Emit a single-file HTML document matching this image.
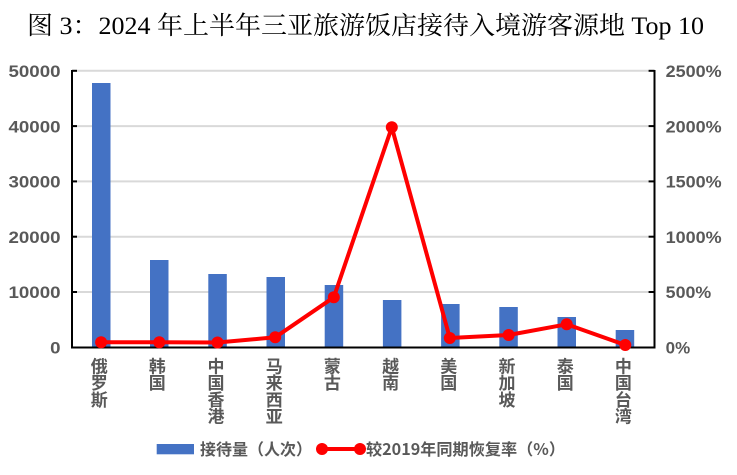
<!DOCTYPE html>
<html>
<head>
<meta charset="utf-8">
<style>
html,body{margin:0;padding:0;background:#fff;}
svg{display:block;}
.t{font-family:"Liberation Serif","Noto Serif CJK SC",serif;}
.ax{font-family:"Liberation Sans","Noto Sans CJK SC",sans-serif;font-weight:bold;fill:#595959;}
.cj{font-family:"Noto Sans CJK SC","Liberation Sans",sans-serif;font-weight:bold;fill:#595959;}
</style>
</head>
<body>
<svg width="737" height="475" viewBox="0 0 737 475" xmlns="http://www.w3.org/2000/svg">
<rect width="737" height="475" fill="#fff"/>
<!-- title -->
<text class="t" x="27" y="34" font-size="25" fill="#000" textLength="677" lengthAdjust="spacingAndGlyphs">图 3：2024 年上半年三亚旅游饭店接待入境游客源地 Top 10</text>

<!-- gridlines -->
<g stroke="#d9d9d9" stroke-width="2">
<line x1="73" y1="70.8" x2="648" y2="70.8"/>
<line x1="73" y1="126.1" x2="648" y2="126.1"/>
<line x1="73" y1="181.4" x2="648" y2="181.4"/>
<line x1="73" y1="236.7" x2="648" y2="236.7"/>
<line x1="73" y1="292" x2="648" y2="292"/>
</g>

<!-- bars -->
<g fill="#4472C4">
<rect x="92" y="83" width="18.5" height="264.5"/>
<rect x="150" y="260" width="18.5" height="87.5"/>
<rect x="208.3" y="274" width="18.5" height="73.5"/>
<rect x="266.5" y="277" width="18.5" height="70.5"/>
<rect x="324.7" y="285" width="18.5" height="62.5"/>
<rect x="382.9" y="300" width="18.5" height="47.5"/>
<rect x="441.1" y="304" width="18.5" height="43.5"/>
<rect x="499.3" y="307" width="18.5" height="40.5"/>
<rect x="557.5" y="317" width="18.5" height="30.5"/>
<rect x="615.7" y="330" width="18.5" height="17.5"/>
</g>

<!-- axes -->
<g stroke="#000" stroke-width="2">
<line x1="72" y1="70" x2="72" y2="348.5"/>
<line x1="654.5" y1="70" x2="654.5" y2="348.5"/>
<line x1="71" y1="347.5" x2="655.5" y2="347.5"/>
<line x1="72" y1="70.8" x2="77" y2="70.8"/>
<line x1="72" y1="126.1" x2="77" y2="126.1"/>
<line x1="72" y1="181.4" x2="77" y2="181.4"/>
<line x1="72" y1="236.7" x2="77" y2="236.7"/>
<line x1="72" y1="292" x2="77" y2="292"/>
<line x1="648.5" y1="70.8" x2="654.5" y2="70.8"/>
<line x1="648.5" y1="126.1" x2="654.5" y2="126.1"/>
<line x1="648.5" y1="181.4" x2="654.5" y2="181.4"/>
<line x1="648.5" y1="236.7" x2="654.5" y2="236.7"/>
<line x1="648.5" y1="292" x2="654.5" y2="292"/>
</g>

<!-- line series -->
<polyline fill="none" stroke="#ff0000" stroke-width="4" stroke-linejoin="round"
 points="101.1,342.3 159.3,342.3 217.5,342.5 275.2,337.3 333.8,297.3 391.8,127.3 449.8,338 508.7,335 566.7,324.3 625.3,345"/>
<g fill="#ff0000">
<circle cx="101.1" cy="342.3" r="6"/>
<circle cx="159.3" cy="342.3" r="6"/>
<circle cx="217.5" cy="342.5" r="6"/>
<circle cx="275.2" cy="337.3" r="6"/>
<circle cx="333.8" cy="297.3" r="6"/>
<circle cx="391.8" cy="127.3" r="6"/>
<circle cx="449.8" cy="338" r="6"/>
<circle cx="508.7" cy="335" r="6"/>
<circle cx="566.7" cy="324.3" r="6"/>
<circle cx="625.3" cy="345" r="6"/>
</g>

<!-- left axis labels -->
<g class="ax" font-size="16.5" text-anchor="end">
<text x="60.5" y="77" textLength="52" lengthAdjust="spacingAndGlyphs">50000</text>
<text x="60.5" y="132.3" textLength="52" lengthAdjust="spacingAndGlyphs">40000</text>
<text x="60.5" y="187.6" textLength="52" lengthAdjust="spacingAndGlyphs">30000</text>
<text x="60.5" y="242.9" textLength="52" lengthAdjust="spacingAndGlyphs">20000</text>
<text x="60.5" y="298.2" textLength="52" lengthAdjust="spacingAndGlyphs">10000</text>
<text x="60.5" y="353.5" textLength="10.4" lengthAdjust="spacingAndGlyphs">0</text>
</g>

<!-- right axis labels -->
<g class="ax" font-size="16.5">
<text x="665.7" y="77" textLength="56" lengthAdjust="spacingAndGlyphs">2500%</text>
<text x="665.7" y="132.3" textLength="56" lengthAdjust="spacingAndGlyphs">2000%</text>
<text x="665.7" y="187.6" textLength="56" lengthAdjust="spacingAndGlyphs">1500%</text>
<text x="665.7" y="242.9" textLength="56" lengthAdjust="spacingAndGlyphs">1000%</text>
<text x="665.7" y="298.2" textLength="45.5" lengthAdjust="spacingAndGlyphs">500%</text>
<text x="665.7" y="353.5" textLength="24.5" lengthAdjust="spacingAndGlyphs">0%</text>
</g>

<!-- category labels (vertical) -->
<g class="cj" font-size="17" text-anchor="middle">
<text x="99.3" y="372.5">俄</text><text x="99.3" y="389.2">罗</text><text x="99.3" y="405.9">斯</text>
<text x="157.3" y="372.5">韩</text><text x="157.3" y="389.2">国</text>
<text x="216" y="372.5">中</text><text x="216" y="389.2">国</text><text x="216" y="405.9">香</text><text x="216" y="422.6">港</text>
<text x="274.2" y="372.5">马</text><text x="274.2" y="389.2">来</text><text x="274.2" y="405.9">西</text><text x="274.2" y="422.6">亚</text>
<text x="332.4" y="372.5">蒙</text><text x="332.4" y="389.2">古</text>
<text x="390.6" y="372.5">越</text><text x="390.6" y="389.2">南</text>
<text x="448.8" y="372.5">美</text><text x="448.8" y="389.2">国</text>
<text x="507" y="372.5">新</text><text x="507" y="389.2">加</text><text x="507" y="405.9">坡</text>
<text x="565.2" y="372.5">泰</text><text x="565.2" y="389.2">国</text>
<text x="623.4" y="372.5">中</text><text x="623.4" y="389.2">国</text><text x="623.4" y="405.9">台</text><text x="623.4" y="422.6">湾</text>
</g>

<!-- legend -->
<rect x="156.7" y="444" width="37.3" height="10.3" fill="#4472C4"/>
<text class="cj" x="200" y="455" font-size="16" textLength="112" lengthAdjust="spacingAndGlyphs">接待量（人次）</text>
<line x1="322" y1="449" x2="360" y2="449" stroke="#ff0000" stroke-width="4"/>
<circle cx="322" cy="449" r="6" fill="#ff0000"/>
<circle cx="360" cy="449" r="6" fill="#ff0000"/>
<text class="cj" x="366" y="455" font-size="16" textLength="199" lengthAdjust="spacingAndGlyphs">较2019年同期恢复率（%）</text>
</svg>
</body>
</html>
